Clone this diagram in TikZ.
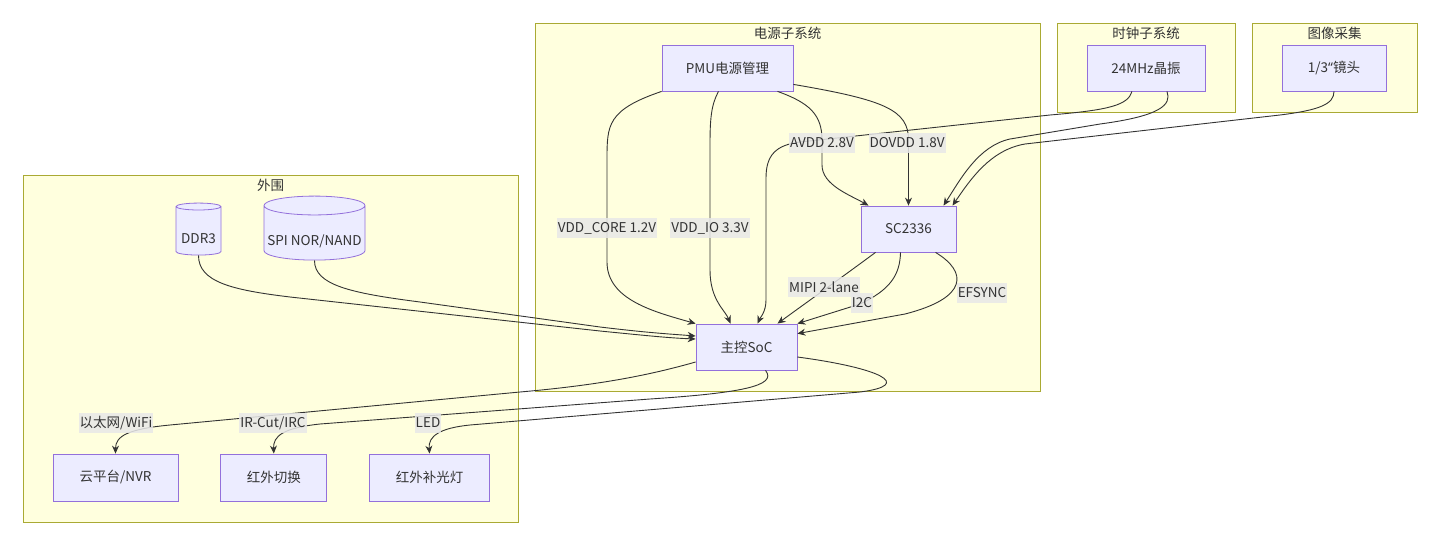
\documentclass[tikz,border=0pt]{standalone}
\usepackage{fontspec}
\setmainfont{Noto Sans CJK SC}
\newfontfamily\quotefont{Noto Sans}
\usepackage{xcolor}
\usetikzlibrary{positioning,shapes.geometric,arrows.meta}
\definecolor{clusterbg}{HTML}{FFFFDE}
\definecolor{clusterline}{HTML}{AAAA33}
\definecolor{nodebg}{HTML}{ECECFF}
\definecolor{nodeline}{HTML}{9370DB}
\definecolor{linkcol}{HTML}{333333}
\definecolor{labelbg}{HTML}{E8E8E8}

\begin{document}
\begin{tikzpicture}[
  x=1pt, y=-1pt,
  font=\fontsize{13.5}{16}\selectfont, text=linkcol,
  cluster/.style={rectangle, draw=clusterline, fill=clusterbg, line width=0.8pt},
  clustertitle/.style={inner sep=0pt},
  squarednode/.style={rectangle, draw=nodeline, fill=nodebg, line width=0.8pt, minimum height=46pt, inner sep=0pt},
  dbnode/.style={cylinder, shape border rotate=90, aspect=0.2, draw=nodeline, fill=nodebg, line width=0.8pt, inner sep=0pt, text height=28pt, text depth=3pt},
  edgelabel/.style={fill=labelbg, fill opacity=0.85, text opacity=1, inner xsep=1pt, inner ysep=0pt, minimum height=20pt},
  link/.style={draw=linkcol, ->, >={Stealth[length=8pt,width=7pt]}, line width=0.9pt}  % all connectors
]
  \useasboundingbox (0,0) rectangle (1440,546);

  % subgraphs
  \node[cluster, minimum width=495pt, minimum height=347pt] (periph) at (270.5,348.5) {};
  \node[cluster, minimum width=505pt, minimum height=368pt] (power) at (787.5,207) {};
  \node[cluster, minimum width=178pt, minimum height=89pt] (clock) at (1146,67.5) {};
  \node[cluster, minimum width=165pt, minimum height=89pt] (image) at (1334.5,67.5) {};
  \node[clustertitle, below=4pt of periph.north] (tperiph) {外围};
  \node[clustertitle, below=4pt of power.north] (tpower) {电源子系统};
  \node[clustertitle, below=4pt of clock.north] (tclock) {时钟子系统};
  \node[clustertitle, below=4pt of image.north] (timage) {图像采集};

  % blocks
  \node[squarednode, minimum width=131pt] (pmu) at (727.5,68) {PMU电源管理};
  \node[squarednode, minimum width=95pt] (sc) at (908.5,229) {SC2336};
  \node[squarednode, minimum width=101pt] (soc) at (746.5,347) {主控SoC};
  \node[squarednode, minimum width=118pt] (clk) at (1146,68) {24MHz晶振};
  \node[squarednode, minimum width=104pt] (lens) at (1334,68) {1/3{\quotefont “}镜头};
  \node[dbnode, minimum width=45pt, minimum height=52pt] (ddr) at (198.5,231) {DDR3};
  \node[dbnode, minimum width=101pt, minimum height=64pt] (spi) at (314.5,233) {SPI NOR/NAND};
  \node[squarednode, minimum width=125pt, minimum height=47pt] (cloud) at (115.5,477.5) {云平台/NVR};
  \node[squarednode, minimum width=106pt, minimum height=47pt, right=42pt of cloud] (irc) {红外切换};
  \node[squarednode, minimum width=120pt, minimum height=47pt, right=42pt of irc] (led) {红外补光灯};

  % power rails
  \draw[link] (pmu.south west) .. controls (607,110) and (607,125) .. (607,160) -- (607,262) .. controls (607,300) and (655,312) .. (soc.north west);
  \draw[link] ([xshift=-9pt]pmu.south) .. controls (711,105) and (710,120) .. (710,145) -- (710,270) .. controls (710,300) and (725,310) .. ([xshift=-16pt]soc.north);
  \draw[link] ([xshift=50pt]pmu.south) .. controls (810,103) and (822,115) .. (822,140) -- (822,165) .. controls (822,185) and (850,195) .. ([xshift=-40pt]sc.north);
  \draw[link] ([yshift=7pt]pmu.south east) .. controls (885,100) and (908.5,110) .. (908.5,140) -- (sc.north);

  % clock and lens
  \draw[link] ([xshift=-14pt]clk.south) .. controls (1128,105) and (1110,110) .. (1050,115) -- (800,142) .. controls (776,145) and (766,155) .. (766,178) -- (766,300) .. controls (766,312) and (760,318) .. ([xshift=11pt]soc.north);
  \draw[link] ([xshift=21pt]clk.south) .. controls (1172,105) and (1160,116) .. (1100,124) -- (1010,139) .. controls (978,146) and (960,180) .. ([xshift=35pt]sc.north);
  \draw[link] (lens.south) .. controls (1334,104) and (1320,110) .. (1280,115) -- (1025,144) .. controls (990,150) and (970,180) .. ([xshift=44pt]sc.north);

  % sensor to SoC
  \draw[link] ([xshift=-33pt]sc.south) .. controls (845,275) and (810,300) .. ([xshift=31pt]soc.north);
  \draw[link] ([xshift=-8pt]sc.south) .. controls (900,275) and (890,290) .. (860,304) -- (soc.north east);
  \draw[link] ([xshift=27pt]sc.south) .. controls (968,272) and (968,298) .. (905,314) -- ([yshift=-10pt]soc.north east);

  % memory
  \draw[link] (ddr.south) .. controls (198.5,282) and (232,290) .. (290,297) -- (600,331) .. controls (650,336) and (670,338) .. ([yshift=8pt]soc.west);
  \draw[link] (spi.south) .. controls (314.5,285) and (350,293) .. (420,302) -- (600,327) .. controls (650,333) and (670,334) .. ([yshift=11pt]soc.west);

  % outputs
  \draw[link] ([yshift=-15pt]soc.west) .. controls (650,375) and (600,385) .. (520,392) -- (170,425) .. controls (128,429) and (115.5,436) .. (cloud.north);
  \draw[link] ([xshift=19pt]soc.south) .. controls (778,386) and (740,393) .. (650,399) -- (320,424) .. controls (283,428) and (273,436) .. (irc.north);
  \draw[link] ([yshift=-10pt]soc.east) .. controls (880,368) and (915,385) .. (860,392) -- (470,425) .. controls (440,428) and (428,436) .. (led.north);

  % edge labels
  \node[edgelabel] (lcore) at (607,228) {VDD\_CORE 1.2V};
  \node[edgelabel] (lio) at (710,228) {VDD\_IO 3.3V};
  \node[edgelabel] (lavdd) at (822,143) {AVDD 2.8V};
  \node[edgelabel] (ldovdd) at (907,143) {DOVDD 1.8V};
  \node[edgelabel] (lmipi) at (824,287) {MIPI 2-lane};
  \node[edgelabel] (li2c) at (862,303) {I2C};
  \node[edgelabel] (lefs) at (982,293) {EFSYNC};
  \node[edgelabel] (leth) at (116,423) {以太网/WiFi};
  \node[edgelabel] (lirc) at (273,423) {IR-Cut/IRC};
  \node[edgelabel] (lled) at (428,423) {LED};
\end{tikzpicture}
\end{document}
